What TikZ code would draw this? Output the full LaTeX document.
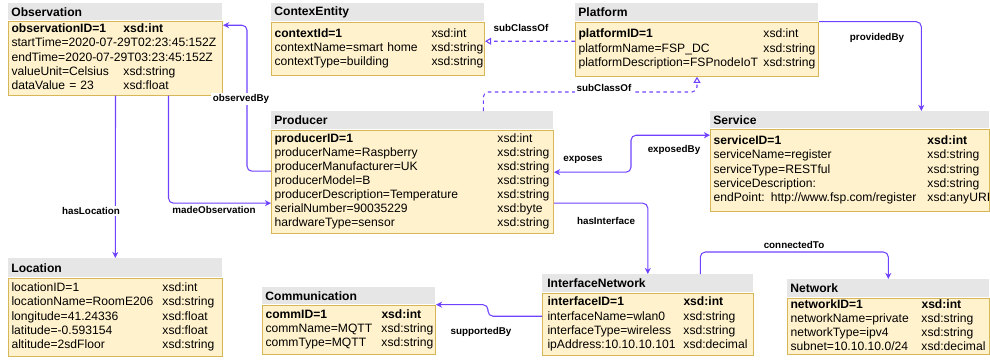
\documentclass[tikz,border=0pt]{standalone}
\usepackage{fontspec}
\setmainfont{Liberation Sans}
\usepackage{array}
\usetikzlibrary{arrows.meta}
\newcolumntype{W}[1]{>{\hbox to #1\bgroup}l<{\hfil\egroup}}
\definecolor{testata}{HTML}{E6E6E6}
\definecolor{corpo}{HTML}{FFF2CC}
\definecolor{bordo}{HTML}{D6B656}
\definecolor{freccia}{HTML}{6F42FF}

\begin{document}
\begin{tikzpicture}[x=0.02cm, y=-0.02cm,
	hdr/.style={fill=testata, anchor=north west, inner xsep=0.06cm, inner ysep=0pt, align=left, font=\fontsize{6.9}{8}\selectfont\bfseries},
	body/.style={draw=bordo, fill=corpo, line width=0.6pt, anchor=north west, inner xsep=0.06cm, inner ysep=0pt, align=left, font=\fontsize{6.9}{8}\selectfont},
	lbl/.style={fill=white, inner sep=1pt, font=\fontsize{5.6}{6.5}\selectfont\bfseries},
	rel/.style={draw=freccia, line width=0.6pt, rounded corners=0.1cm, -{Stealth[length=3.5pt, width=3.5pt]}},
	sub/.style={draw=freccia, line width=0.6pt, rounded corners=0.1cm, dash pattern=on 2pt off 2pt, -{Triangle[open, length=3.5pt, width=4pt, fill=white]}}]
	
	\useasboundingbox (0,0) rectangle (990,362);
	
	% Observation
	\node[hdr, minimum width=4.28cm, minimum height=0.34cm, text width=4.16cm] (obsH) at (8,3) {Observation};
	\node[body, minimum width=4.28cm, minimum height=1.48cm, text width=4.16cm] (obs) at (obsH.south west) {%
		\begin{tabular}{@{}W{2.24cm}@{}l@{}}
			\textbf{observationID=1} & \textbf{xsd:int}\\
			\multicolumn{2}{@{}l@{}}{startTime=2020-07-29T02:23:45:152Z}\\
			\multicolumn{2}{@{}l@{}}{endTime=2020-07-29T03:23:45:152Z}\\
			valueUnit=Celsius & xsd:string\\
			dataValue = 23 & xsd:float
		\end{tabular}};
	
	% ContexEntity
	\node[hdr, minimum width=4.26cm, minimum height=0.36cm, text width=4.14cm] (ctxH) at (271,3) {ContexEntity};
	\node[body, minimum width=4.26cm, minimum height=1.06cm, text width=4.14cm] (ctx) at (ctxH.south west) {%
		\begin{tabular}{@{}W{3.14cm}@{}l@{}}
			\textbf{contextId=1} & xsd:int\\
			contextName=smart home & xsd:string\\
			contextType=building & xsd:string
		\end{tabular}};
	
	% Platform
	\node[hdr, minimum width=4.86cm, minimum height=0.36cm, text width=4.74cm] (platH) at (575,3) {Platform};
	\node[body, minimum width=4.86cm, minimum height=1.08cm, text width=4.74cm] (plat) at (platH.south west) {%
		\begin{tabular}{@{}W{3.70cm}@{}l@{}}
			\textbf{platformID=1} & xsd:int\\
			platformName=FSP\_DC & xsd:string\\
			platformDescription=FSPnodeIoT & xsd:string
		\end{tabular}};
	
	% Producer
	\node[hdr, minimum width=5.64cm, minimum height=0.36cm, text width=5.52cm] (prodH) at (271,111) {Producer};
	\node[body, minimum width=5.64cm, minimum height=2.06cm, text width=5.52cm] (prod) at (prodH.south west) {%
		\begin{tabular}{@{}W{4.46cm}@{}l@{}}
			\textbf{producerID=1} & xsd:int\\
			producerName=Raspberry & xsd:string\\
			producerManufacturer=UK & xsd:string\\
			producerModel=B & xsd:string\\
			producerDescription=Temperature & xsd:string\\
			serialNumber=90035229 & xsd:byte\\
			hardwareType=sensor & xsd:string
		\end{tabular}};
	
	% Service
	\node[hdr, minimum width=5.58cm, minimum height=0.34cm, text width=5.46cm] (servH) at (710,111) {Service};
	\node[body, minimum width=5.58cm, minimum height=1.64cm, text width=5.46cm] (serv) at (servH.south west) {%
		\begin{tabular}{@{}W{4.28cm}@{}l@{}}
			\textbf{serviceID=1} & \textbf{xsd:int}\\
			serviceName=register & xsd:string\\
			serviceType=RESTful & xsd:string\\
			serviceDescription: & xsd:string\\
			endPoint: http://www.fsp.com/register & xsd:anyURI
		\end{tabular}};
	
	% Location
	\node[hdr, minimum width=4.28cm, minimum height=0.38cm, text width=4.16cm] (locH) at (8,258) {Location};
	\node[body, minimum width=4.28cm, minimum height=1.56cm, text width=4.16cm] (loc) at (locH.south west) {%
		\begin{tabular}{@{}W{3.02cm}@{}l@{}}
			locationID=1 & xsd:int\\
			locationName=RoomE206 & xsd:string\\
			longitude=41.24336 & xsd:float\\
			latitude=-0.593154 & xsd:float\\
			altitude=2sdFloor & xsd:string
		\end{tabular}};
	
	% Communication
	\node[hdr, minimum width=3.46cm, minimum height=0.34cm, text width=3.34cm] (commH) at (262,287) {Communication};
	\node[body, minimum width=3.46cm, minimum height=0.98cm, text width=3.34cm] (comm) at (commH.south west) {%
		\begin{tabular}{@{}W{2.32cm}@{}l@{}}
			\textbf{commID=1} & \textbf{xsd:int}\\
			commName=MQTT & xsd:string\\
			commType=MQTT & xsd:string
		\end{tabular}};
	
	% InterfaceNetwork
	\node[hdr, minimum width=4.22cm, minimum height=0.36cm, text width=4.02cm, inner xsep=0.1cm] (ifH) at (542,274) {InterfaceNetwork};
	\node[body, minimum width=4.22cm, minimum height=1.24cm, text width=4.02cm, inner xsep=0.1cm] (ifN) at (ifH.south west) {%
		\begin{tabular}{@{}W{2.72cm}@{}l@{}}
			\textbf{interfaceID=1} & \textbf{xsd:int}\\
			interfaceName=wlan0 & xsd:string\\
			interfaceType=wireless & xsd:string\\
			ipAddress:10.10.10.101 & xsd:decimal
		\end{tabular}};
	
	% Network
	\node[hdr, minimum width=4.04cm, minimum height=0.36cm, text width=3.92cm] (netH) at (787,279) {Network};
	\node[body, minimum width=4.04cm, minimum height=1.00cm, text width=3.92cm] (net) at (netH.south west) {%
		\begin{tabular}{@{}W{2.62cm}@{}l@{}}
			\textbf{networkID=1} & \textbf{xsd:int}\\
			networkName=private & xsd:string\\
			networkType=ipv4 & xsd:string\\
			subnet=10.10.10.0/24 & xsd:decimal
		\end{tabular}};
	
	% Relazioni
	\draw[rel] (obs.south) -- (locH.north);
	\draw[rel] ([xshift=1.06cm]obs.south) |- ([yshift=-0.43cm]prod.west);
	\draw[rel] ([yshift=0.21cm]prod.west) -- ++(-24,0) |- ([yshift=0.66cm]obs.east);
	\draw[sub] ([yshift=0.16cm]plat.west) -- ([yshift=0.15cm]ctx.east);
	\draw[sub] ([xshift=1.42cm]prodH.north) -- ++(0,-19) -| (plat.south);
	\draw[rel] (plat.north east) -| ([xshift=1.43cm]servH.north);
	\draw[rel, {Stealth[length=3.5pt, width=3.5pt]}-{Stealth[length=3.5pt, width=3.5pt]}] ([yshift=0.19cm]prod.east) -- ++(77,0) |- ([yshift=0.7cm]serv.west);
	\draw[rel] ([yshift=-0.43cm]prod.east) -| (ifH.north);
	\draw[rel] ([xshift=1.05cm]ifH.north) -- ++(0,-22) -| (netH.north);
	\draw[rel] ([yshift=0.16cm]ifN.west) -- ++(-54,0) |- (comm.north east);
	
	% Etichette
	\node[lbl] (lOss) at (241,99) {observedBy};
	\node[lbl] (lMade) at (214,210) {madeObservation};
	\node[lbl] (lLoc) at (91,211) {hasLocation};
	\node[lbl] (lSub1) at (521,28) {subClassOf};
	\node[lbl] (lSub2) at (604,88) {subClassOf};
	\node[lbl] (lProv) at (877,38) {providedBy};
	\node[lbl] (lExp) at (583,160) {exposes};
	\node[lbl] (lExpBy) at (674,150) {exposedBy};
	\node[lbl] (lInt) at (606,221) {hasInterface};
	\node[lbl] (lConn) at (794,245) {connectedTo};
	\node[lbl] (lSupp) at (481,332) {supportedBy};
	
\end{tikzpicture}
\end{document}
